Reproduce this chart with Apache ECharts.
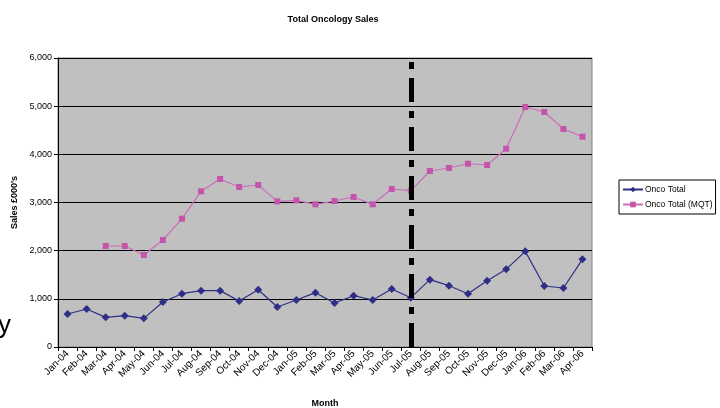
<!DOCTYPE html>
<html>
<head>
<meta charset="utf-8">
<script src="https://cdn.jsdelivr.net/npm/echarts@6/dist/echarts.min.js"></script>
<style>
  html, body { margin: 0; padding: 0; background: #fff; }
  #chart { width: 720px; height: 408px; }
</style>
</head>
<body>
<div id="chart"></div>
<script>
var months = ['Jan-04','Feb-04','Mar-04','Apr-04','May-04','Jun-04','Jul-04','Aug-04','Sep-04','Oct-04',
	'Nov-04','Dec-04','Jan-05','Feb-05','Mar-05','Apr-05','May-05','Jun-05','Jul-05','Aug-05',
	'Sep-05','Oct-05','Nov-05','Dec-05','Jan-06','Feb-06','Mar-06','Apr-06'];

var oncoTotal = [685, 789, 616, 650, 595, 934, 1107, 1170, 1170, 955,
	1190, 830, 976, 1128, 913, 1065, 976, 1204, 1024, 1398,
	1273, 1107, 1377, 1612, 1986, 1266, 1225, 1820];

var oncoTotalMQT = ['-', '-', 2097, 2097, 1910, 2221, 2664, 3232, 3488, 3322,
	3363, 3024, 3045, 2962, 3031, 3114, 2962, 3280, 3245, 3654,
	3716, 3805, 3778, 4117, 4982, 4879, 4526, 4366];

var yTicks = [0, 1000, 2000, 3000, 4000, 5000, 6000];
var cutOver = 'Jul-05';

var font = 'Liberation Sans, Arial, sans-serif';
var myChart = echarts.init(document.getElementById('chart'));

var option = {
	animation: false,
	title: {
		text: 'Total Oncology Sales',
		left: 328,
		textAlign: 'center',
		top: 10,
		textStyle: { fontFamily: font, fontSize: 9, fontWeight: 'bold', color: '#000' }
	},
	graphic: [{
		type: 'text',
		left: -2,
		top: 313,
		style: { text: 'y', fontFamily: font, fontSize: 26, fill: '#000' }
	}],
	legend: {
		orient: 'vertical',
		left: 619,
		top: 180,
		backgroundColor: '#fff',
		borderColor: '#000',
		borderWidth: 1,
		borderRadius: 0,
		padding: [5, 3, 5, 3],
		itemWidth: 20,
		itemHeight: 7,
		itemGap: 6,
		textStyle: { fontFamily: font, fontSize: 8.5, color: '#000', padding: [0, 0, 0, -3] },
		data: ['Onco Total', 'Onco Total (MQT)']
	},
	grid: {
		left: 58, right: 128, top: 58, bottom: 61,
		containLabel: false,
		outerBoundsMode: 'none',
		show: true,
		backgroundColor: '#c0c0c0',
		borderColor: '#808080',
		borderWidth: 1
	},
	xAxis: {
		type: 'category',
		data: months,
		boundaryGap: true,
		name: 'Month',
		nameLocation: 'middle',
		nameGap: 52,
		nameTextStyle: { fontFamily: font, fontSize: 9, fontWeight: 'bold', color: '#000' },
		axisLine: { lineStyle: { color: '#000', width: 1 } },
		axisTick: { show: true, interval: 0, length: 4, lineStyle: { color: '#000' } },
		axisLabel: { interval: 0, rotate: 45, fontFamily: font, fontSize: 10, color: '#000', margin: 5 }
	},
	yAxis: {
		type: 'value',
		min: yTicks[0],
		max: yTicks[yTicks.length - 1],
		interval: 1000,
		name: "Sales £000's",
		nameLocation: 'middle',
		nameGap: 33,
		nameTextStyle: { fontFamily: font, fontSize: 9, fontWeight: 'bold', color: '#000' },
		axisLine: { show: true, lineStyle: { color: '#000', width: 1 } },
		axisTick: { show: true, length: 4, lineStyle: { color: '#000' } },
		splitLine: { show: true, lineStyle: { color: '#000', width: 1 } },
		axisLabel: {
			fontFamily: font, fontSize: 9, color: '#000', margin: 6,
			formatter: function (v) { return v.toLocaleString('en-US'); }
		}
	},
	series: [
		{
			name: 'Onco Total',
			type: 'line',
			data: oncoTotal,
			symbol: 'diamond',
			symbolSize: 8,
			color: '#2e2e86',
			lineStyle: { width: 1.2, color: '#2e2e86' },
			itemStyle: { color: '#2e2e86' },
			markLine: {
				silent: true,
				symbol: 'none',
				label: { show: false },
				lineStyle: { color: '#000', width: 5, type: [24, 9, 7, 9] },
				data: [{ xAxis: cutOver }]
			}
		},
		{
			name: 'Onco Total (MQT)',
			type: 'line',
			data: oncoTotalMQT,
			symbol: 'rect',
			symbolSize: 6,
			color: '#c455ab',
			lineStyle: { width: 1.2, color: '#cc6cb8' },
			itemStyle: { color: '#c455ab' }
		}
	]
};

myChart.setOption(option);
</script>
</body>
</html>
